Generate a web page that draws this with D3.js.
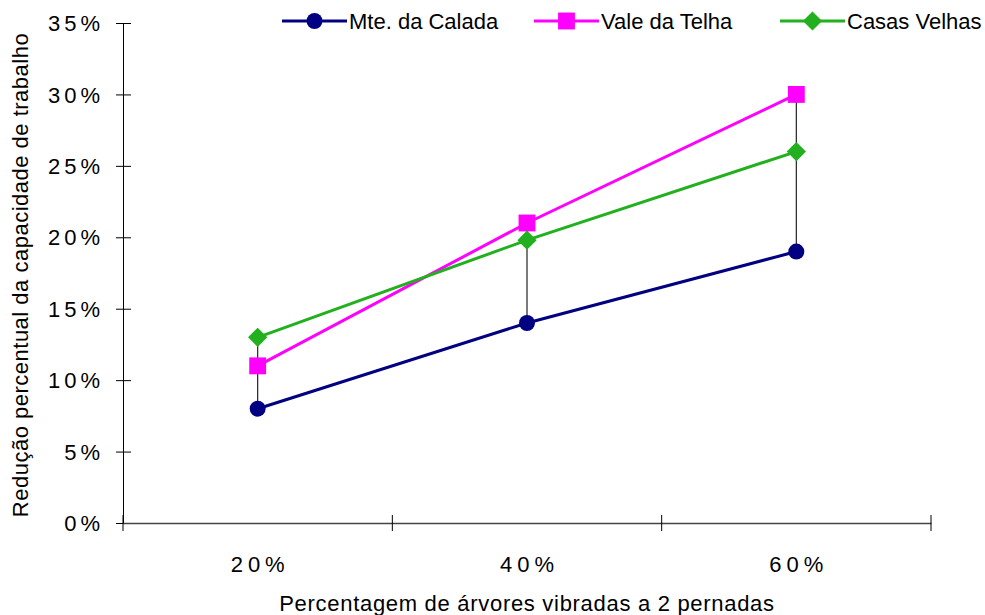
<!DOCTYPE html>
<html><head><meta charset="utf-8">
<script src="https://cdn.jsdelivr.net/npm/d3@7"></script>
<style>body{margin:0;background:#fff}svg{display:block;font-family:"Liberation Sans",Arial,sans-serif}</style>
</head><body><svg id="c" width="985" height="615"></svg>
<script>
const categories = ["20%", "40%", "60%"];
const yTicks = [0, 0.05, 0.10, 0.15, 0.20, 0.25, 0.30, 0.35];
const seriesNames = ["Mte. da Calada", "Vale da Telha", "Casas Velhas"];
const mteCalada = [0.08, 0.14, 0.19];
const valeTelha = [0.11, 0.21, 0.30];
const casasVelhas = [0.13, 0.198, 0.26];
const colors = ["#000080", "#FF00FF", "#22B01E"];
const symbols = [d3.symbolCircle, d3.symbolSquare, d3.symbolSquare];
const symSizes = [200, 285, 185];
const symRot = [0, 0, 45];

const svg = d3.select("#c");
const L = 123, R = 931, T = 23, B = 523;
const x = d3.scaleBand().domain(categories).range([L, R]);
const y = d3.scaleLinear().domain([0, 0.35]).range([B, T]);
const series = [mteCalada, valeTelha, casasVelhas];

// y axis
const ya = svg.append("g").attr("transform", `translate(${L},0)`)
  .call(d3.axisLeft(y).tickValues(yTicks).tickFormat(d3.format(".0%")).tickSizeInner(7).tickSizeOuter(0).tickPadding(12));
ya.select(".domain").attr("stroke", "#000");
ya.selectAll(".tick line").attr("x2", 8).attr("x1", -7).attr("stroke", "#000");
ya.selectAll("text").attr("font-size", 22).attr("letter-spacing", "4px").attr("fill", "#000").attr("dy", "0.35em");

// x axis
const xa = svg.append("g").attr("transform", `translate(0,${B})`)
  .call(d3.axisBottom(x).tickSize(0).tickPadding(33));
xa.select(".domain").attr("stroke", "#444").attr("stroke-width", 1.3);
xa.selectAll("text").attr("font-size", 22).attr("letter-spacing", "5px").attr("fill", "#000").attr("dx", "2.5px");
const edges = categories.map(c => x(c)).concat([x(categories[categories.length - 1]) + x.bandwidth()]);
xa.selectAll(".edge").data(edges).enter().append("line")
  .attr("x1", d => d).attr("x2", d => d).attr("y1", -8).attr("y2", 8).attr("stroke", "#000");

// high-low lines
const cx = c => x(c) + x.bandwidth() / 2;
svg.append("g").selectAll("line").data(categories).enter().append("line")
  .attr("x1", cx).attr("x2", cx)
  .attr("y1", (c, i) => y(d3.max(series, s => s[i])))
  .attr("y2", (c, i) => y(d3.min(series, s => s[i])))
  .attr("stroke", "#222").attr("stroke-width", 1.2);

// series
series.forEach((s, k) => {
  const line = d3.line().x((d, i) => cx(categories[i])).y(d => y(d));
  svg.append("path").attr("d", line(s)).attr("fill", "none").attr("stroke", colors[k]).attr("stroke-width", 3);
  svg.append("g").selectAll("path").data(s).enter().append("path")
    .attr("transform", (d, i) => `translate(${cx(categories[i])},${y(d)}) rotate(${symRot[k]})`)
    .attr("d", d3.symbol().type(symbols[k]).size(symSizes[k])).attr("fill", colors[k]);
});

// legend
const legX = [282, 534, 780];
seriesNames.forEach((n, k) => {
  const g = svg.append("g").attr("transform", `translate(${legX[k]},21)`);
  g.append("line").attr("x1", 0).attr("x2", 65).attr("stroke", colors[k]).attr("stroke-width", 3);
  g.append("path").attr("transform", `translate(32.5,0) rotate(${symRot[k]})`).attr("d", d3.symbol().type(symbols[k]).size(symSizes[k])).attr("fill", colors[k]);
  g.append("text").attr("x", 67).attr("dy", "0.35em").attr("font-size", 22).attr("fill", "#000").text(n);
});

// axis titles
svg.append("text").attr("x", 527).attr("y", 611).attr("text-anchor", "middle").attr("font-size", 22)
  .attr("letter-spacing", "0.7px").text("Percentagem de árvores vibradas a 2 pernadas");
svg.append("text").attr("transform", "translate(28,275) rotate(-90)").attr("text-anchor", "middle").attr("font-size", 22)
  .attr("letter-spacing", "0.5px").text("Redução percentual da capacidade de trabalho");
</script></body></html>
